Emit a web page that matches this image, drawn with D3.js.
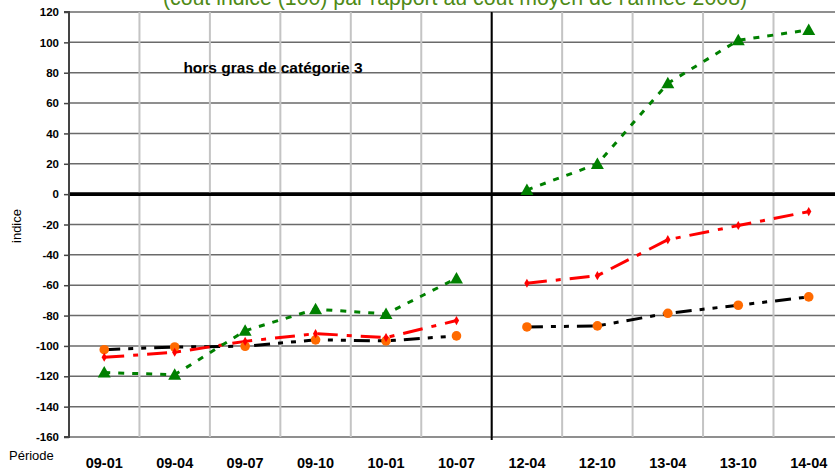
<!DOCTYPE html>
<html><head><meta charset="utf-8">
<script src="https://cdn.jsdelivr.net/npm/d3@7"></script>
<style>body{margin:0;background:#fff;} svg{display:block;font-family:"Liberation Sans",Arial,sans-serif;}</style>
</head><body>
<svg id="c" width="835" height="475"></svg>
<script>
const categories = ["09-01","09-04","09-07","09-10","10-01","10-07","12-04","12-10","13-04","13-10","14-04"];
const segments = [[0,5],[6,10]];
const blackSeries = [-102.5,-100.7,-100.2,-96,-96.7,-93.4,-87.5,-86.8,-78.5,-73.2,-67.7];
const redSeries   = [-107.5,-104.2,-97,-91.9,-94.5,-83.3,-58.7,-53.7,-30,-20.7,-11.5];
const greenSeries = [-117.5,-119,-90,-75.8,-78.9,-55.5,2.8,19.9,73,101.4,108.2];
const yTicks = d3.range(-160,121,20);
const titleText = "(coût indice (100) par rapport au coût moyen de l'année 2008)";
const subtitleText = "hors gras de catégorie 3";

const svg = d3.select("#c");
const L=69, T=12, B=437, bw=70.45;
const x = d3.scaleBand().domain(categories).range([L, L+bw*categories.length]).paddingInner(0).paddingOuter(0);
const y = d3.scaleLinear().domain([-160,120]).range([B,T]);
const xc = c => x(c)+x.bandwidth()/2;

// horizontal gridlines
svg.append("g").selectAll("line").data(yTicks).join("line")
  .attr("x1",L).attr("x2",L+bw*categories.length)
  .attr("y1",d=>y(d)).attr("y2",d=>y(d))
  .attr("stroke",d=>d===0?"#000":"#6a6a6a").attr("stroke-width",d=>d===0?3.5:1.5);
// vertical gridlines
svg.append("g").selectAll("line").data(categories.slice(1)).join("line")
  .attr("x1",d=>x(d)).attr("x2",d=>x(d)).attr("y1",T).attr("y2",B)
  .attr("stroke","#c4c4c4").attr("stroke-width",2);
// zero line over verticals, separator line
svg.append("line").attr("x1",L).attr("x2",L+bw*categories.length).attr("y1",y(0)).attr("y2",y(0))
  .attr("stroke","#000").attr("stroke-width",3.5);
svg.append("line").attr("x1",x("12-04")).attr("x2",x("12-04")).attr("y1",T).attr("y2",B+3).attr("stroke","#000").attr("stroke-width",2);

// y axis
const yAxis = d3.axisLeft(y).tickValues(yTicks).tickSize(5).tickPadding(5).tickFormat(d=>String(d));
const ga = svg.append("g").attr("transform",`translate(${L},0)`).call(yAxis);
ga.select(".domain").attr("stroke","#444").attr("stroke-width",2).attr("d",`M-5,${T}H0V${B}H-5`);
ga.selectAll(".tick line").attr("stroke","#444").attr("stroke-width",1.5);
ga.selectAll(".tick text").attr("font-family","Liberation Sans, Arial, sans-serif").attr("font-size",11.5).attr("font-weight","bold").attr("fill","#000");

// x axis labels
const xAxis = d3.axisBottom(x).tickSize(0).tickPadding(0);
const gx = svg.append("g").attr("transform",`translate(0,${B})`).call(xAxis);
gx.select(".domain").remove();
gx.selectAll(".tick text").attr("font-family","Liberation Sans, Arial, sans-serif").attr("font-size",14.5).attr("font-weight","bold").attr("fill","#000").attr("dy",null).attr("y",31);

// lines
function drawSeries(vals, color, dash, width){
  segments.forEach(([a,b])=>{
    const pts = d3.range(a,b+1).map(i=>[xc(categories[i]), y(vals[i])]);
    svg.append("path").attr("d",d3.line()(pts)).attr("fill","none").attr("stroke",color)
      .attr("stroke-width",width).attr("stroke-dasharray",dash);
  });
}
drawSeries(blackSeries,"#000","16,8,5,8,5,8",3);
drawSeries(redSeries,"#ff0000","20,9,5,9",3);
drawSeries(greenSeries,"#008000","6,8",3);

// markers
svg.append("g").selectAll("circle").data(blackSeries).join("circle")
  .attr("cx",(d,i)=>xc(categories[i])).attr("cy",d=>y(d)).attr("r",4.8).attr("fill","#ff6a00");
svg.append("g").selectAll("path").data(redSeries).join("path")
  .attr("transform",(d,i)=>`translate(${xc(categories[i])},${y(d)})`)
  .attr("d",d3.symbol(d3.symbolDiamond,24)()).attr("fill","#ff0000");
svg.append("g").selectAll("path").data(greenSeries).join("path")
  .attr("transform",(d,i)=>`translate(${xc(categories[i])},${y(d)})`)
  .attr("d","M0,-6.5L6.5,5L-6.5,5Z").attr("fill","#008000");

// texts
svg.append("text").attr("x",455).attr("y",5).attr("text-anchor","middle").attr("font-size",21.3)
  .attr("fill","#4e8a16").text(titleText);
svg.append("text").attr("x",273).attr("y",73).attr("text-anchor","middle").attr("font-size",15.5)
  .attr("font-weight","bold").attr("fill","#000").text(subtitleText);
svg.append("text").attr("transform","translate(21,226) rotate(-90)").attr("text-anchor","middle")
  .attr("font-size",13).attr("fill","#000").text("indice");
svg.append("text").attr("x",9).attr("y",460).attr("font-size",13).attr("fill","#000").text("Période");
</script>
</body></html>
